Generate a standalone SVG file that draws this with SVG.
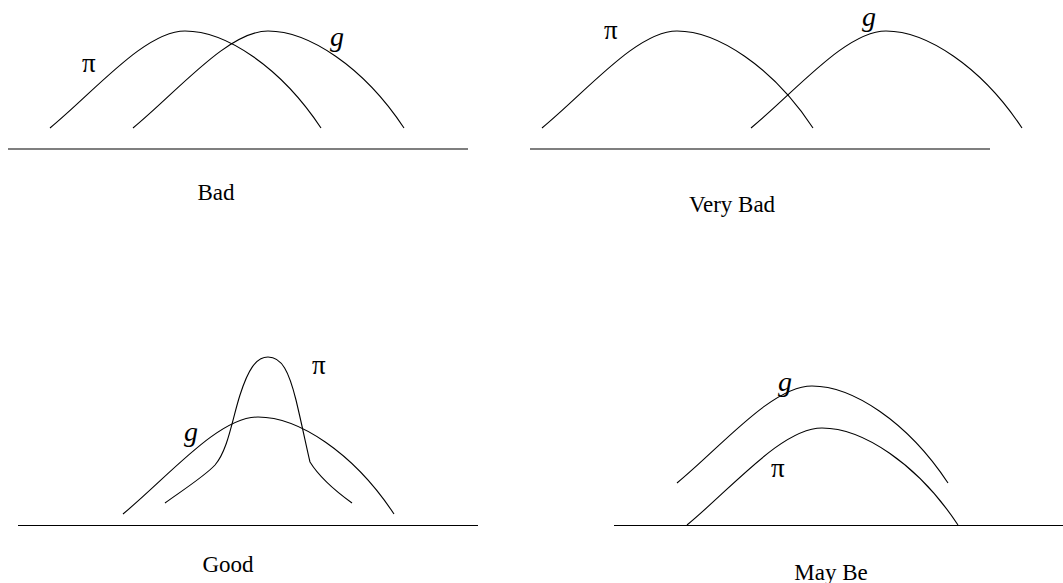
<svg xmlns="http://www.w3.org/2000/svg" xmlns:xlink="http://www.w3.org/1999/xlink" width="1063" height="583" viewBox="0 0 1063 583">
<style>
.c{fill:none;stroke:#000;stroke-width:1.1}
.b{stroke:#000;stroke-width:1.2}
.pi{font-family:"Liberation Serif",serif;font-size:27px;fill:#000}
.g{font-family:"Liberation Serif",serif;font-style:italic;font-size:28px;fill:#000}
.cap{font-family:"Liberation Serif",serif;font-size:23px;fill:#000;text-anchor:middle}
</style>
<defs>
<path id="hump" d="M0,97 C45,60 95,0 135,0 C175,0 230,35 271,97"/>
</defs>
<rect width="1063" height="583" fill="#fff"/>
<g id="panel-bad">
<line class="b" x1="8" y1="149" x2="468" y2="149"/>
<use href="#hump" xlink:href="#hump" class="c" transform="translate(50,31)"/>
<use href="#hump" xlink:href="#hump" class="c" transform="translate(133,31)"/>
<text class="pi" x="82" y="72">π</text>
<text class="g" x="330" y="46">g</text>
<text class="cap" x="216" y="200">Bad</text>
</g>
<g id="panel-verybad">
<line class="b" x1="530" y1="149" x2="990" y2="149"/>
<use href="#hump" xlink:href="#hump" class="c" transform="translate(542,31)"/>
<use href="#hump" xlink:href="#hump" class="c" transform="translate(751,31)"/>
<text class="pi" x="604" y="39">π</text>
<text class="g" x="862" y="26">g</text>
<text class="cap" x="732" y="212">Very Bad</text>
</g>
<g id="panel-good">
<line class="b" x1="18" y1="525.5" x2="478" y2="525.5"/>
<use href="#hump" xlink:href="#hump" class="c" transform="translate(123,417)"/>
<path class="c" d="M165,503 C180,492 205,476 215,465 C228,450 232,420 240,395 C248,370 256,357 268,357 C282,357 289,372 296,400 C302,425 306,445 310,462 C318,475 334,490 352,503"/>
<text class="pi" x="312" y="374">π</text>
<text class="g" x="184" y="441">g</text>
<text class="cap" x="228" y="572">Good</text>
</g>
<g id="panel-maybe">
<line class="b" x1="614" y1="525.5" x2="1063" y2="525.5"/>
<use href="#hump" xlink:href="#hump" class="c" transform="translate(677,386)"/>
<use href="#hump" xlink:href="#hump" class="c" transform="translate(687,428)"/>
<text class="g" x="778" y="391">g</text>
<text class="pi" x="771" y="477">π</text>
<text class="cap" x="831" y="580">May Be</text>
</g>
</svg>
